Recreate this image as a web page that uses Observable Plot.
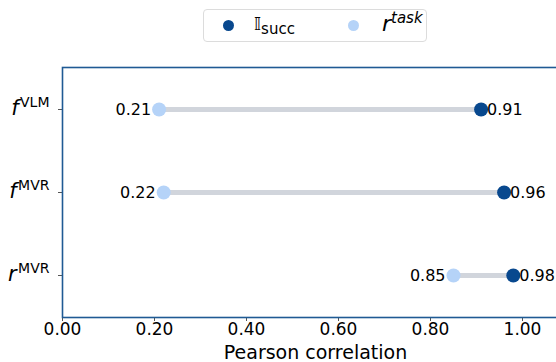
<!DOCTYPE html>
<html>
<head>
<meta charset="utf-8">
<script src="https://cdn.jsdelivr.net/npm/d3@7"></script>
<script src="https://cdn.jsdelivr.net/npm/@observablehq/plot@0.6"></script>
<style>
  html, body { margin: 0; padding: 0; background: #fff; overflow: hidden; width: 556px; height: 362px; }
  body { position: relative; font-family: "DejaVu Sans", sans-serif; }
  #legend { position: absolute; left: 203px; top: 9px; width: 224px; height: 33px; border: 1px solid #dcdcdc; border-radius: 4px; box-sizing: border-box; }
  .ldot { position: absolute; width: 11px; height: 11px; border-radius: 50%; top: 10px; }
  .ltxt { position: absolute; top: 2px; color: #000; white-space: nowrap; line-height: 24px; }
  #chart { position: absolute; left: 0; top: 50px; width: 570px; }
</style>
</head>
<body>
<div id="legend"></div>
<div id="chart"></div>
<script>
const categories = ["fVLM", "fMVR", "rMVR"];
const labelBase = ["f", "f", "r"];
const labelSup = ["VLM", "MVR", "MVR"];
const succValues = [0.91, 0.96, 0.98];
const taskValues = [0.21, 0.22, 0.85];
const xTicks = [0, 0.2, 0.4, 0.6, 0.8, 1.0];

const darkBlue = "#08488e";
const lightBlue = "#b5d3f8";

const rows = categories.map((c, i) => ({cat: c, succ: succValues[i], task: taskValues[i]}));

// legend
const legend = document.getElementById("legend");
legend.innerHTML = `
  <div class="ldot" style="left:19px;background:${darkBlue}"></div>
  <div class="ltxt" style="left:50px;"><span style="font-family:'DejaVu Sans';font-style:italic;font-size:18px;">𝕀</span><span style="font-size:15px;position:relative;top:4px;">succ</span></div>
  <div class="ldot" style="left:144px;background:${lightBlue}"></div>
  <div class="ltxt" style="left:178px;"><span style="font-style:italic;font-size:22px;">r</span><span style="font-style:italic;font-size:15px;position:relative;top:-8px;">task</span></div>
`;

const chart = Plot.plot({
  width: 568,
  height: 312,
  marginLeft: 62,
  marginRight: 0,
  marginTop: 17,
  marginBottom: 45,
  style: {fontFamily: "DejaVu Sans, sans-serif", fontSize: "15px", color: "#000", background: "#fff", maxWidth: "none"},
  x: {domain: [0, 1.1]},
  y: {type: "point", domain: categories, padding: 0.5},
  marks: [
    Plot.link(rows, {x1: "task", x2: "succ", y1: "cat", y2: "cat", stroke: "#d1d5dc", strokeWidth: 5}),
    Plot.dot(rows, {x: "task", y: "cat", r: 7, fill: lightBlue, stroke: "none"}),
    Plot.dot(rows, {x: "succ", y: "cat", r: 7, fill: darkBlue, stroke: "none"}),
    Plot.text(rows, {x: "task", y: "cat", text: d => d.task.toFixed(2), textAnchor: "end", dx: -8, fontSize: 16, fill: "#000"}),
    Plot.text(rows, {x: "succ", y: "cat", text: d => d.succ.toFixed(2), textAnchor: "start", dx: 6, fontSize: 16, fill: "#000"}),
    Plot.axisX({ticks: xTicks, tickFormat: d => d.toFixed(2), tickSize: 4, tickPadding: 1, fontSize: 17,
      label: "Pearson correlation", labelAnchor: "center", labelArrow: "none", labelOffset: 41, stroke: "#555"}),
    Plot.axisY({tickSize: 4, tickPadding: 9, fontSize: 17, label: null, stroke: "#555"}),
    Plot.frame({stroke: "#1f5a94", strokeWidth: 1.6})
  ]
});
document.getElementById("chart").appendChild(chart);

// style axis label and superscripts on y tick labels
const svg = d3.select(chart);
svg.selectAll("g[aria-label='x-axis label'] text").attr("font-size", 19);
svg.selectAll("g[aria-label='y-axis tick label'] text").each(function(d, i) {
  const t = d3.select(this);
  const idx = categories.indexOf(typeof d === "string" ? d : t.text());
  const k = idx >= 0 ? idx : i;
  t.text(null);
  t.append("tspan").attr("font-style", "italic").attr("font-size", 21).text(labelBase[k]);
  t.append("tspan").attr("font-size", 14).attr("dx", 1.5).attr("dy", "-0.6em").text(labelSup[k]);
});
</script>
</body>
</html>
